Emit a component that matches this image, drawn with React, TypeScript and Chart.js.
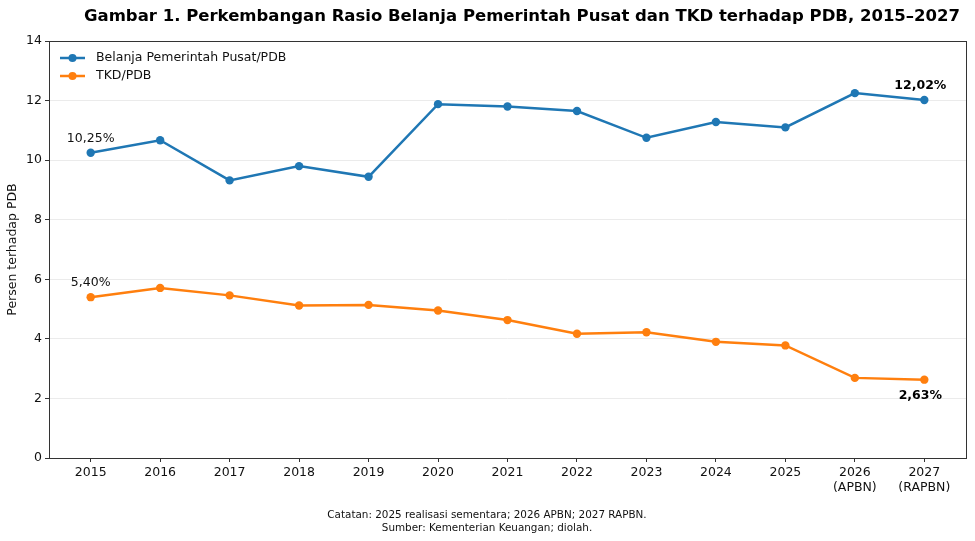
import { useEffect, useRef } from 'react';
import { Chart, registerables } from 'chart.js';

Chart.register(...registerables);

const years = [2015, 2016, 2017, 2018, 2019, 2020, 2021, 2022, 2023, 2024, 2025, 2026, 2027];
const yearLabels = ['2015', '2016', '2017', '2018', '2019', '2020', '2021', '2022', '2023', '2024', '2025', ['2026', '(APBN)'], ['2027', '(RAPBN)']];
const belanjaPusat = [10.25, 10.67, 9.32, 9.8, 9.44, 11.88, 11.8, 11.65, 10.75, 11.28, 11.1, 12.25, 12.02];
const tkd = [5.4, 5.71, 5.46, 5.12, 5.14, 4.95, 4.63, 4.17, 4.22, 3.9, 3.78, 2.69, 2.63];
const yTicks = [0, 2, 4, 6, 8, 10, 12, 14];

const BLUE = '#1f77b4';
const ORANGE = '#ff7f0e';
const FONT = '"DejaVu Sans", sans-serif';

const decorPlugin = {
  id: 'decor',
  afterDraw(chart) {
    const { ctx, chartArea: a, scales } = chart;
    const x = scales.x;
    const y = scales.y;
    ctx.save();

    // box round the plot
    ctx.strokeStyle = '#333';
    ctx.lineWidth = 1;
    ctx.strokeRect(a.left + 0.5, a.top + 0.5, a.right - a.left, a.bottom - a.top);

    // title
    ctx.fillStyle = '#000';
    ctx.textAlign = 'center';
    ctx.textBaseline = 'middle';
    ctx.font = `bold 16.5px ${FONT}`;
    ctx.fillText('Gambar 1. Perkembangan Rasio Belanja Pemerintah Pusat dan TKD terhadap PDB, 2015–2027', 522, 17);

    // footer
    ctx.font = `10.4px ${FONT}`;
    ctx.fillStyle = '#111';
    ctx.fillText('Catatan: 2025 realisasi sementara; 2026 APBN; 2027 RAPBN.', 487, 515);
    ctx.fillText('Sumber: Kementerian Keuangan; diolah.', 487, 528);

    // y axis title
    ctx.save();
    ctx.translate(13, (a.top + a.bottom) / 2);
    ctx.rotate(-Math.PI / 2);
    ctx.font = `12.5px ${FONT}`;
    ctx.fillText('Persen terhadap PDB', 0, 0);
    ctx.restore();

    // point labels
    const first = 0;
    const last = years.length - 1;
    ctx.font = `12.5px ${FONT}`;
    ctx.fillStyle = '#111';
    ctx.fillText('10,25%', x.getPixelForValue(years[first]), y.getPixelForValue(belanjaPusat[first]) - 14);
    ctx.fillText('5,40%', x.getPixelForValue(years[first]), y.getPixelForValue(tkd[first]) - 14);
    ctx.font = `bold 12.5px ${FONT}`;
    ctx.fillStyle = '#000';
    ctx.fillText('12,02%', x.getPixelForValue(years[last]) - 4, y.getPixelForValue(belanjaPusat[last]) - 14);
    ctx.fillText('2,63%', x.getPixelForValue(years[last]) - 4, y.getPixelForValue(tkd[last]) + 16);

    // legend inside plot
    const items = [
      { label: 'Belanja Pemerintah Pusat/PDB', color: BLUE },
      { label: 'TKD/PDB', color: ORANGE },
    ];
    items.forEach((it, i) => {
      const ly = a.top + 17 + i * 18;
      const lx = a.left + 11;
      ctx.strokeStyle = it.color;
      ctx.lineWidth = 2.5;
      ctx.beginPath();
      ctx.moveTo(lx, ly);
      ctx.lineTo(lx + 25, ly);
      ctx.stroke();
      ctx.fillStyle = it.color;
      ctx.beginPath();
      ctx.arc(lx + 12.5, ly, 4, 0, Math.PI * 2);
      ctx.fill();
      ctx.fillStyle = '#111';
      ctx.textAlign = 'left';
      ctx.font = `12.5px ${FONT}`;
      ctx.fillText(it.label, lx + 36, ly);
    });

    ctx.restore();
  },
};

const App = () => {
  const chartRef = useRef(null);
  const chartInstance = useRef(null);

  useEffect(() => {
    if (chartRef.current) {
      const ctx = chartRef.current.getContext('2d');
      if (chartInstance.current) {
        chartInstance.current.destroy();
      }

      const line = (label, values, color) => ({
        label,
        data: years.map((yr, i) => ({ x: yr, y: values[i] })),
        borderColor: color,
        backgroundColor: color,
        borderWidth: 2.5,
        pointRadius: 4.2,
        pointBorderWidth: 0,
        pointBackgroundColor: color,
        tension: 0,
      });

      chartInstance.current = new Chart(ctx, {
        type: 'line',
        data: {
          datasets: [
            line('Belanja Pemerintah Pusat/PDB', belanjaPusat, BLUE),
            line('TKD/PDB', tkd, ORANGE),
          ],
        },
        options: {
          animation: false,
          responsive: false,
          maintainAspectRatio: false,
          layout: { padding: { left: 0, right: 9, top: 41, bottom: 0 } },
          plugins: {
            legend: { display: false },
            tooltip: { enabled: false },
            title: { display: false },
          },
          scales: {
            x: {
              type: 'linear',
              min: 2014.4,
              max: 2027.6,
              afterBuildTicks: (s) => {
                s.ticks = years.map((v) => ({ value: v }));
              },
              afterFit: (s) => {
                s.height = 83;
              },
              grid: { drawOnChartArea: false, tickLength: 4, tickColor: '#333' },
              border: { display: false },
              ticks: {
                color: '#111',
                padding: 3,
                maxRotation: 0,
                autoSkip: false,
                font: { family: FONT, size: 12.5, lineHeight: 1.2 },
                callback: (v) => yearLabels[years.indexOf(v)],
              },
            },
            y: {
              min: 0,
              max: 14,
              afterBuildTicks: (s) => {
                s.ticks = yTicks.map((v) => ({ value: v }));
              },
              afterFit: (s) => {
                s.width = 49;
              },
              grid: { color: '#ebebeb', lineWidth: 1, tickLength: 4, tickColor: '#333' },
              border: { display: false },
              ticks: {
                color: '#111',
                padding: 3,
                font: { family: FONT, size: 12.5 },
              },
            },
          },
        },
        plugins: [decorPlugin],
      });
    }

    return () => {
      if (chartInstance.current) {
        chartInstance.current.destroy();
        chartInstance.current = null;
      }
    };
  }, []);

  return (
    <div style={{ position: 'fixed', left: 0, top: 0, width: 975, height: 541, background: '#fff' }}>
      <canvas ref={chartRef} width={975} height={541} style={{ width: 975, height: 541 }} />
    </div>
  );
};

export default App;
